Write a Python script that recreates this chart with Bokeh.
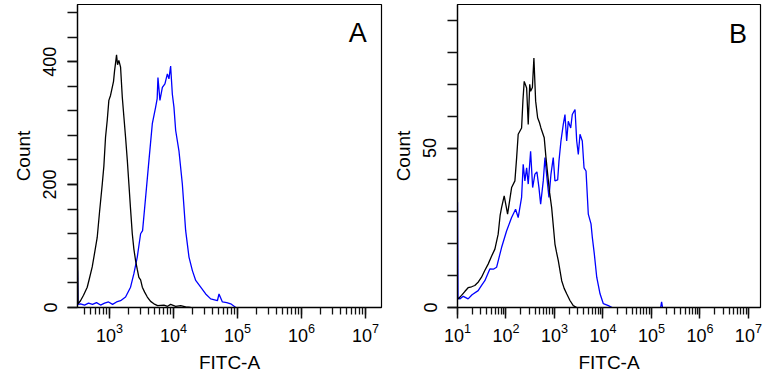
import numpy as np
from bokeh.plotting import figure
from bokeh.layouts import row
from bokeh.models import FixedTicker, Label
from bokeh.embed import file_html
from bokeh.resources import INLINE

# ---- Panel A: log10(FITC-A) bin positions and event counts ----
a_ctrl_log = [2.500, 2.508, 2.547, 2.594, 2.652, 2.688, 2.730, 2.766, 2.808, 2.844,
              2.887, 2.912, 2.938, 2.965, 2.990, 3.016, 3.043, 3.063, 3.079, 3.095,
              3.110, 3.126, 3.146, 3.173, 3.200, 3.225, 3.251, 3.278, 3.303, 3.329,
              3.356, 3.381, 3.408, 3.434, 3.459, 3.486, 3.513, 3.549, 3.591, 3.642,
              3.694, 3.752, 3.851, 3.908, 3.955, 4.034, 4.112, 4.190, 4.268]
a_ctrl_count = [160, 6, 11, 20, 33, 48, 66, 88, 114, 155,
                201, 230, 277, 305, 337, 345, 358, 368, 385, 398,
                411, 395, 402, 391, 342, 310, 277, 240, 201, 160,
                120, 95, 76, 62, 49, 45, 33, 25, 17, 10,
                6, 3, 4, 2, 5, 2, 3, 1, 0]

a_stain_log = [2.500, 2.508, 2.547, 2.610, 2.672, 2.735, 2.797, 2.860, 2.923, 2.985,
               3.048, 3.110, 3.173, 3.251, 3.329, 3.381, 3.434, 3.486, 3.517, 3.564,
               3.616, 3.669, 3.721, 3.745, 3.757, 3.788, 3.826, 3.866, 3.904, 3.929,
               3.955, 3.982, 4.007, 4.034, 4.085, 4.138, 4.190, 4.242, 4.295, 4.347,
               4.425, 4.503, 4.581, 4.686, 4.711, 4.764, 4.832, 4.894, 4.973]
a_stain_count = [60, 5, 6, 4, 7, 5, 8, 4, 7, 9,
                 5, 9, 11, 17, 33, 55, 82, 120, 125, 179,
                 239, 299, 326, 340, 374, 337, 358, 364, 380, 372,
                 393, 347, 326, 288, 255, 201, 125, 82, 60, 44,
                 33, 22, 14, 11, 22, 9, 8, 6, 0]

# ---- Panel B ----
b_ctrl_log = [1.000, 1.083, 1.150, 1.219, 1.290, 1.357, 1.430, 1.496, 1.560, 1.632,
              1.700, 1.771, 1.839, 1.880, 1.909, 1.963, 2.000, 2.033, 2.080, 2.116,
              2.184, 2.220, 2.252, 2.322, 2.350, 2.376, 2.426, 2.459, 2.490, 2.508,
              2.545, 2.576, 2.612, 2.653, 2.690, 2.721, 2.789, 2.825, 2.860, 2.900,
              2.942, 3.010, 3.040, 3.079, 3.149, 3.200, 3.252, 3.320, 3.388, 3.459]
b_ctrl_count = [2.5, 3.8, 5.0, 6.2, 6.5, 6.9, 8.0, 9.5, 11.5, 13.6,
                16.0, 18.3, 23.0, 29.0, 31.3, 35.0, 32.0, 29.3, 34.0, 37.6,
                39.7, 47.0, 54.3, 56.3, 65.0, 70.9, 68.8, 57.4, 70.0, 67.8,
                69.0, 78.2, 64.7, 59.5, 58.0, 56.3, 53.2, 47.0, 41.8, 36.0,
                31.3, 19.9, 17.5, 14.7, 8.4, 6.0, 4.3, 2.2, 0.6, 0.0]

b_stain_log = [1.000, 1.010, 1.048, 1.120, 1.219, 1.300, 1.426, 1.500, 1.564, 1.667,
               1.740, 1.806, 1.909, 2.012, 2.116, 2.198, 2.252, 2.322, 2.355, 2.390,
               2.426, 2.459, 2.508, 2.550, 2.597, 2.638, 2.680, 2.715, 2.769, 2.804,
               2.851, 2.886, 2.928, 2.975, 3.010, 3.066, 3.093, 3.134, 3.182, 3.217,
               3.252, 3.285, 3.335, 3.368, 3.424, 3.459, 3.492, 3.527, 3.574, 3.610,
               3.651, 3.698, 3.754, 3.781, 3.822, 3.872, 3.940, 4.008, 4.112, 4.190]
b_stain_count = [33.0, 3.0, 2.7, 3.5, 2.7, 4.0, 5.3, 7.0, 8.4, 12.1,
                 12.0, 12.6, 18.8, 24.0, 28.2, 30.8, 28.2, 34.5, 44.9, 39.7,
                 43.8, 38.7, 49.0, 37.6, 41.8, 42.5, 37.6, 32.4, 39.7, 47.0,
                 39.7, 34.5, 41.8, 47.0, 39.7, 40.0, 45.9, 52.2, 57.4, 60.5,
                 52.2, 58.4, 56.3, 60.5, 62.1, 52.2, 48.0, 54.3, 52.2, 43.8,
                 42.8, 29.3, 26.2, 22.0, 16.8, 9.5, 4.3, 1.2, 0.6, 0.0]
b_stain_tail_log = [5.190, 5.210, 5.230]
b_stain_tail_count = [0.0, 1.8, 0.0]

# ---- Axes ----
a_x_log_range = (2.5, 7.25)
b_x_log_range = (1.0, 7.25)
a_y_max = 493
b_y_max = 95
a_y_major = [0, 200, 400]
a_y_minor = list(range(0, 481, 40))
b_y_major = [0, 50]
b_y_minor = list(range(0, 91, 10))

CTRL_COLOR = "#000000"
STAIN_COLOR = "#0000ff"
FONT = "Liberation Sans"


def decade_ticks(lo, hi):
    major = [10.0 ** e for e in range(int(np.ceil(lo)), int(np.floor(hi)) + 1)]
    minor = []
    for e in range(int(np.floor(lo)), int(np.ceil(hi)) + 1):
        for k in range(1, 10):
            v = k * 10.0 ** e
            if 10 ** lo <= v <= 10 ** hi:
                minor.append(v)
    return major, minor


def make_panel(x_log_range, y_max, y_major, y_minor, border_left, border_right,
               frame_width, letter, letter_x_log, letter_y):
    p = figure(
        x_axis_type="log",
        x_range=(10 ** x_log_range[0], 10 ** x_log_range[1]),
        y_range=(0, y_max),
        frame_width=frame_width, frame_height=303,
        min_border_left=border_left, min_border_right=border_right,
        min_border_top=4, min_border_bottom=64,
        output_backend="svg", toolbar_location=None,
    )
    p.grid.visible = False
    p.outline_line_color = "black"
    p.outline_line_width = 1.2
    p.background_fill_color = "white"
    p.border_fill_color = "white"

    major, minor = decade_ticks(*x_log_range)
    xa = p.xaxis[0]
    xa.ticker = FixedTicker(ticks=major, minor_ticks=minor)
    xa.axis_label = "FITC-A"
    xa.major_tick_in = 0
    xa.major_tick_out = 11
    xa.minor_tick_in = 0
    xa.minor_tick_out = 7
    xa.major_label_standoff = 4

    ya = p.yaxis[0]
    ya.ticker = FixedTicker(ticks=y_major, minor_ticks=y_minor)
    ya.axis_label = "Count"
    ya.major_tick_in = 0
    ya.major_tick_out = 10
    ya.minor_tick_in = 0
    ya.minor_tick_out = 10
    ya.major_label_orientation = "vertical"
    ya.major_label_standoff = 11

    for ax in (xa, ya):
        ax.axis_line_color = "black"
        ax.axis_line_width = 1.3
        ax.major_tick_line_color = "#111111"
        ax.minor_tick_line_color = "#111111"
        ax.major_tick_line_width = 1.5
        ax.minor_tick_line_width = 1.3
        ax.major_label_text_font = FONT
        ax.major_label_text_font_size = "18px"
        ax.major_label_text_color = "black"
        ax.axis_label_text_font = FONT
        ax.axis_label_text_font_size = "19px"
        ax.axis_label_text_font_style = "normal"
        ax.axis_label_text_color = "black"
        ax.axis_label_standoff = 7

    p.add_layout(Label(x=10 ** letter_x_log, y=letter_y, text=letter,
                       text_align="center", text_baseline="alphabetic",
                       text_font=FONT, text_font_size="27px", text_color="black"))
    return p


def to_lin(logs):
    return [10.0 ** v for v in logs]


pa = make_panel(a_x_log_range, a_y_max, a_y_major, a_y_minor, 77, 3, 304,
                "A", 6.88, 447)
pa.line(to_lin(a_stain_log), a_stain_count, line_color=STAIN_COLOR, line_width=1.3)
pa.line(to_lin(a_ctrl_log), a_ctrl_count, line_color=CTRL_COLOR, line_width=1.3)

pb = make_panel(b_x_log_range, b_y_max, b_y_major, b_y_minor, 73, 8, 303,
                "B", 6.785, 85.9)
pb.line(to_lin(b_stain_log), b_stain_count, line_color=STAIN_COLOR, line_width=1.3)
pb.line(to_lin(b_stain_tail_log), b_stain_tail_count, line_color=STAIN_COLOR, line_width=1.3)
pb.line(to_lin(b_ctrl_log), b_ctrl_count, line_color=CTRL_COLOR, line_width=1.3)

layout = row(pa, pb)
open("out.html", "w").write(file_html(layout, INLINE))
